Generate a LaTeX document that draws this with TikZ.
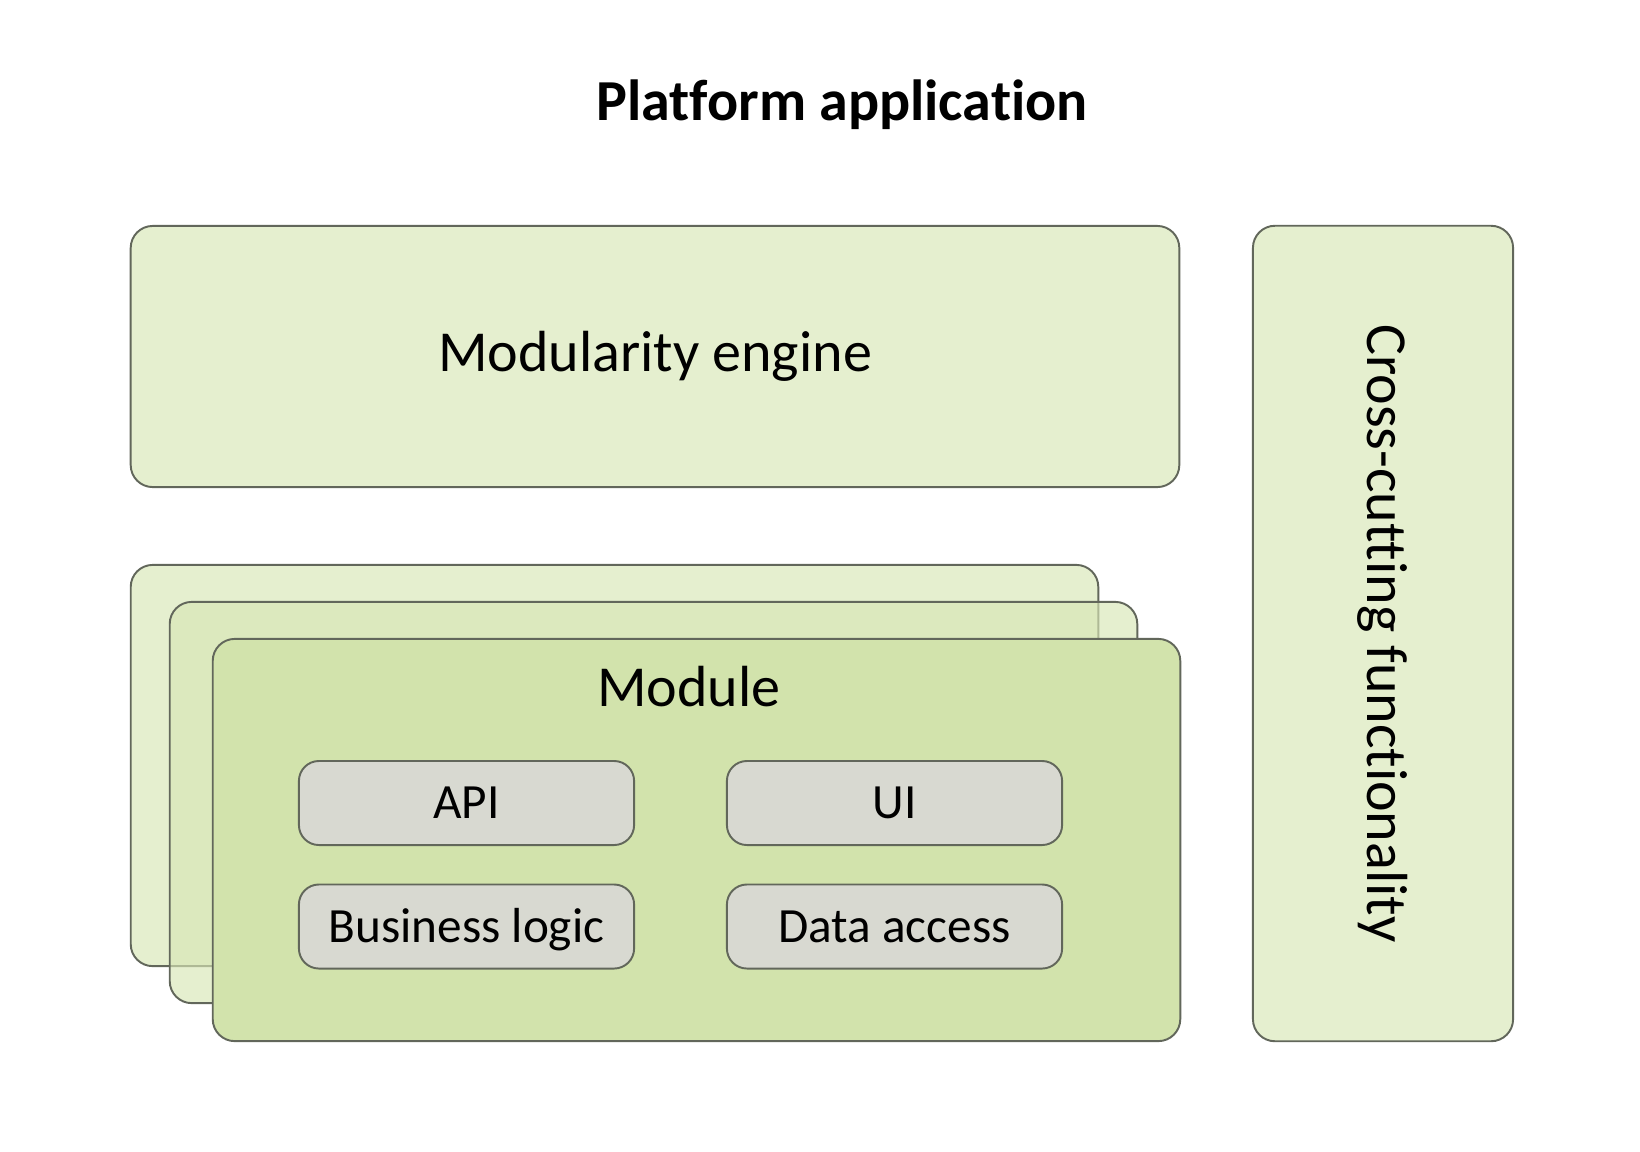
\documentclass[tikz,border=0pt]{standalone}
\usepackage{fontspec}
\setmainfont{Carlito}[Ligatures=NoCommon]
\usepackage{tikz}
\definecolor{layergreen}{HTML}{D7E6B5}
\definecolor{modulegreen}{HTML}{D2E3AC}
\definecolor{partgray}{HTML}{D8D9D1}
\definecolor{edgegray}{HTML}{62675B}

\begin{document}
\begin{tikzpicture}[x=0.01cm,y=-0.01cm,
  every node/.style={inner sep=0pt,font=\fontsize{16.5}{20}\selectfont},
  panel/.style={draw=edgegray,line width=0.55pt,rounded corners=0.22cm,fill=layergreen,fill opacity=0.65,text opacity=1},
  frontpanel/.style={panel,fill=modulegreen,fill opacity=1},
  part/.style={draw=edgegray,line width=0.55pt,rounded corners=0.2cm,fill=partgray,
    minimum width=3.35cm,minimum height=0.84cm,text height=9pt,text depth=0pt,font=\fontsize{14}{17}\selectfont}
  ]
    \useasboundingbox (0,0) rectangle (1640,1151);

    \node[font=\bfseries\fontsize{16.5}{20}\selectfont,anchor=base] (title) at (842,120) {Platform application};

    \node[panel,minimum width=10.48cm,minimum height=2.61cm] (engine) at (655,356.5) {Modularity engine};
    \node[panel,minimum width=8.15cm,minimum height=2.6cm,rotate=-90] (cross) at (1383,633.5) {Cross-cutting functionality};

    % stacked modules
    \node[panel,minimum width=9.67cm,minimum height=4.01cm] (module3) at (614.5,765.5) {};
    \node[panel,minimum width=9.67cm,minimum height=4.01cm] (module2) at (653.5,802.5) {};
    \node[frontpanel,minimum width=9.67cm,minimum height=4.02cm] (module) at (696.5,840) {};
    \node[anchor=base] (modlabel) at (689,706) {Module};

    \node[part] (api) at (466.5,803) {API};
    \node[part] (ui) at (894.5,803) {UI};
    \node[part] (logic) at (466.5,926.5) {Business logic};
    \node[part] (data) at (894.5,926.5) {Data access};
\end{tikzpicture}
\end{document}
